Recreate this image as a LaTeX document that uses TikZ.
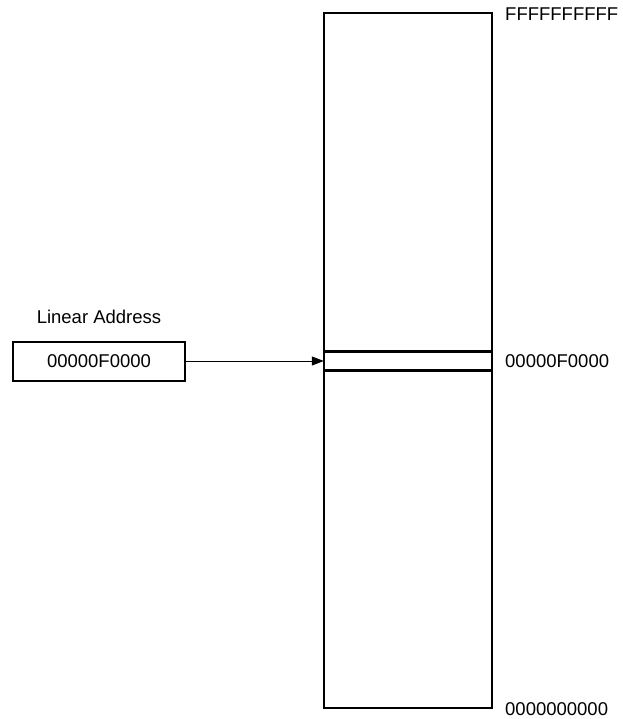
\documentclass[tikz,border=0pt]{standalone}
\usepackage{fontspec}
\setmainfont{Liberation Sans}
\usetikzlibrary{arrows,arrows.meta}

\begin{document}
\begin{tikzpicture}[x=1pt,y=-1pt,
addr/.style={font=\fontsize{18.5}{21}\selectfont,inner sep=0pt},
memory/.style={draw,line width=2pt,minimum width=168pt,minimum height=695pt,inner sep=0pt},
page/.style={minimum width=168pt,minimum height=18pt,inner sep=0pt},
reg/.style={draw,line width=2pt,minimum width=172pt,minimum height=39pt,inner sep=0pt,font=\fontsize{18.5}{21}\selectfont},
arrow/.style={-{Triangle[length=12pt,width=9pt]},line width=0.8pt} ]

\useasboundingbox (0,0) rectangle (622,719);

\node[memory] (M) at (408,360.5) {};

\node[page] (P) at (408,361) {};

\draw[line width=3pt] (P.north west) -- (P.north east);

\draw[line width=3pt] (P.south west) -- (P.south east);

\node[reg] (R) at (99,361) {00000F0000};

\node[addr] (T) at (99,317) {Linear Address};

\node[addr,anchor=west] (top) at (505,14) {FFFFFFFFFF};

\node[addr,anchor=west] (mid) at (505,361) {00000F0000};

\node[addr,anchor=west] (bot) at (505,709.5) {0000000000};

\draw[arrow] (R.east) -- (P.west);


\end{tikzpicture}
\end{document}
